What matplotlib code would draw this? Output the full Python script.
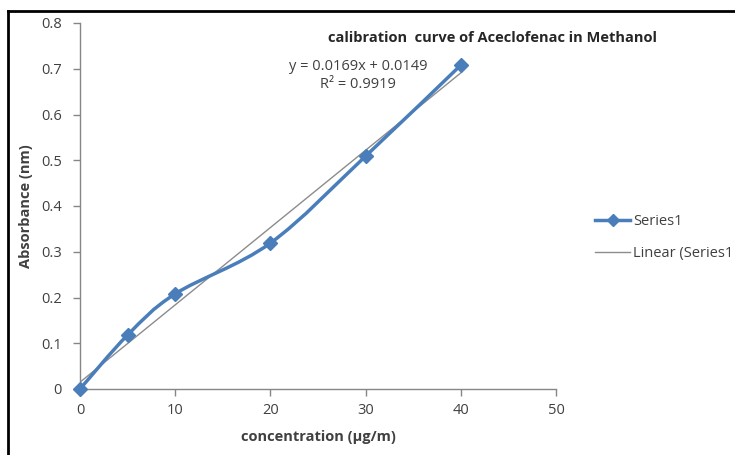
import numpy as np
import matplotlib.pyplot as plt
from matplotlib.path import Path
from matplotlib.patches import PathPatch
from matplotlib.lines import Line2D

# dados
concentracao = [0, 5, 10, 20, 30, 40]
absorbancia = [0.0, 0.118, 0.208, 0.319, 0.509, 0.708]
inclinacao = 0.0169
intercepto = 0.0149
r2 = 0.9919
x_ticks = [0, 10, 20, 30, 40, 50]
y_ticks = [0, 0.1, 0.2, 0.3, 0.4, 0.5, 0.6, 0.7, 0.8]
y_labels = ["0", "0.1", "0.2", "0.3", "0.4", "0.5", "0.6", "0.7", "0.8"]

AZUL = "#4a7ebb"
CINZA = "#868686"
TEXTO = "#404040"

plt.rcParams["font.family"] = ["Open Sans", "DejaVu Sans"]


def curva_suave(xs, ys):
    # curva de Bezier no estilo "smoothed line" do Excel
    pts = np.column_stack([xs, ys]).astype(float)
    n = len(pts)
    verts = [pts[0]]
    codes = [Path.MOVETO]
    for i in range(n - 1):
        p0 = pts[i - 1] if i > 0 else pts[i]
        p1 = pts[i]
        p2 = pts[i + 1]
        p3 = pts[i + 2] if i + 2 < n else pts[i + 1]
        c1 = p1 + (p2 - p0) / 6.0
        c2 = p2 - (p3 - p1) / 6.0
        verts += [c1, c2, p2]
        codes += [Path.CURVE4] * 3
    return Path(verts, codes)


fig = plt.figure(figsize=(7.35, 4.55), dpi=100)
ax = fig.add_axes([80 / 735, 66 / 455, 476 / 735, 366 / 455])

# linha de tendência
xt = np.array([concentracao[0], concentracao[-1]])
ax.plot(xt, inclinacao * xt + intercepto, color="#8c8c8c", lw=1.0, zorder=2)

# série suavizada
ax.add_patch(PathPatch(curva_suave(concentracao, absorbancia), fill=False,
                       edgecolor=AZUL, lw=2.5, zorder=3, clip_on=False))
ax.plot(concentracao, absorbancia, ls="none", marker="D", ms=7,
        color=AZUL, zorder=4, clip_on=False)

ax.set_xlim(0, 50)
ax.set_ylim(0, 0.8)
ax.set_xticks(x_ticks)
ax.set_yticks(y_ticks)
ax.set_yticklabels(y_labels)
for s in ["top", "right"]:
    ax.spines[s].set_visible(False)
for s in ["left", "bottom"]:
    ax.spines[s].set_color(CINZA)
    ax.spines[s].set_linewidth(1.0)
ax.tick_params(colors=CINZA, labelcolor=TEXTO, labelsize=10.5, length=5, width=1)
ax.tick_params(axis="y", pad=8)
ax.tick_params(axis="x", pad=5)

ax.set_xlabel("concentration (µg/m)", fontsize=10.5, fontweight="bold", color=TEXTO, labelpad=9)
ax.set_ylabel("Absorbance (nm)", fontsize=10.5, fontweight="bold", color=TEXTO, labelpad=6)

fig.text(493 / 735, 1 - 38 / 455, "calibration  curve of Aceclofenac in Methanol",
         ha="center", va="center", fontsize=10.5, fontweight="bold", color="#262626")
fig.text(358 / 735, 1 - 66 / 455, "y = 0.0169x + 0.0149", ha="center", va="center",
         fontsize=10.5, color=TEXTO)
fig.text(358 / 735, 1 - 85 / 455, "R² = 0.9919", ha="center", va="center",
         fontsize=10.5, color=TEXTO)

handles = [Line2D([], [], color=AZUL, lw=2.5, marker="D", ms=6),
           Line2D([], [], color="#8c8c8c", lw=1.0)]
fig.legend(handles, ["Series1", "Linear (Series1"], loc="upper left",
           bbox_to_anchor=(582 / 735, 1 - 201 / 455), frameon=False,
           fontsize=10.5, labelspacing=1.15, handlelength=2.4, handletextpad=0.2,
           labelcolor=TEXTO)

# moldura cortada
fig.add_artist(Line2D([8 / 735, 1], [1 - 11 / 455, 1 - 11 / 455],
                      transform=fig.transFigure, color="black", lw=2))
fig.add_artist(Line2D([8 / 735, 8 / 735], [0, 1 - 11 / 455],
                      transform=fig.transFigure, color="black", lw=2))

fig.savefig("out.png", dpi=100)
